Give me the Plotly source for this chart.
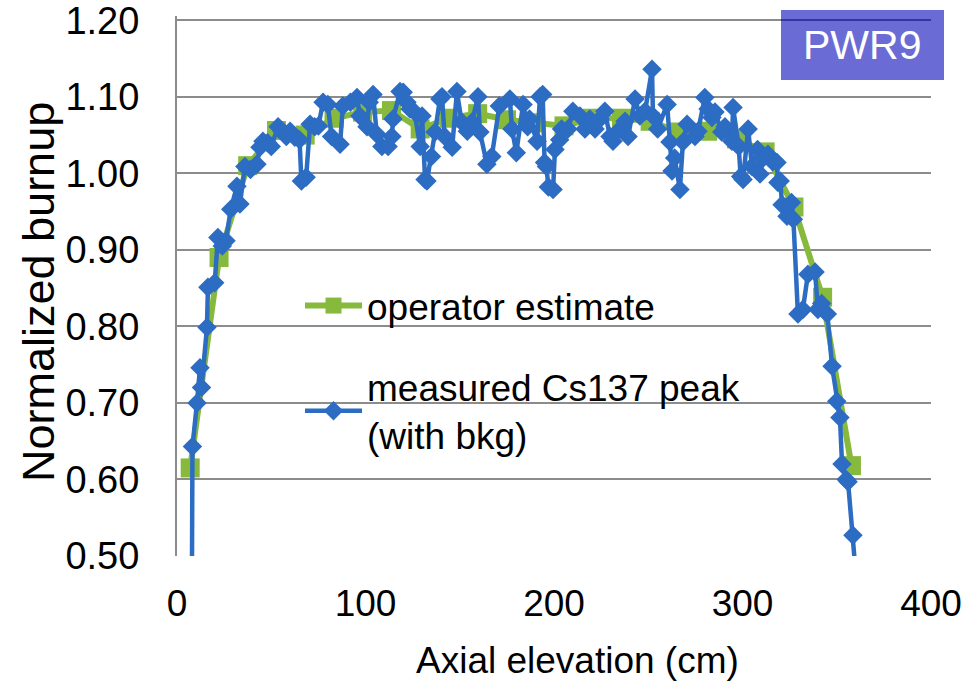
import plotly.graph_objects as go

# operator estimate (green squares)
op_x = [7.0, 22.3, 37.5, 52.8, 68.0, 83.3, 98.5, 113.8, 129.0, 144.3, 159.5, 174.8,
        190.0, 205.3, 220.5, 235.8, 251.0, 266.3, 281.5, 296.8, 312.0, 327.3, 342.5, 357.8]
op_y = [0.615, 0.890, 1.010, 1.056, 1.050, 1.072, 1.080, 1.082, 1.058, 1.072, 1.078, 1.070,
        1.066, 1.062, 1.072, 1.072, 1.068, 1.054, 1.055, 1.045, 1.028, 0.956, 0.838, 0.618]

# measured Cs137 peak (blue diamonds)
cs_x = [7.8, 8.2, 10.6, 12.2, 13.0, 15.9, 16.4, 20.0, 21.7, 24.0, 26.0, 28.5, 31.8, 33.4,
        36.0, 39.0, 42.4, 44.0, 45.6, 48.0, 50.0, 53.6, 55.7, 58.0, 60.0, 62.5, 65.0, 66.0,
        68.5, 70.6, 73.0, 75.0, 77.5, 80.0, 82.0, 86.5, 88.0, 92.0, 95.5, 97.0, 100.8, 102.0,
        104.0, 106.0, 108.7, 112.0, 114.0, 114.6, 118.3, 120.0, 122.0, 123.6, 126.0, 129.0,
        130.0, 131.6, 132.6, 135.0, 136.9, 139.5, 140.6, 142.0, 146.0, 148.5, 151.0, 154.0,
        156.5, 159.7, 160.7, 164.4, 167.0, 171.0, 176.6, 177.7, 180.0, 183.6, 186.0, 187.0,
        191.0, 192.6, 194.0, 195.0, 196.0, 197.0, 199.5, 200.5, 203.0, 204.0, 207.4, 210.0,
        213.8, 216.4, 219.0, 221.8, 224.4, 227.0, 229.7, 231.3, 235.0, 237.7, 239.3, 243.0,
        245.6, 248.3, 252.0, 252.5, 255.0, 260.0, 261.5, 262.6, 264.0, 266.8, 268.4, 270.6,
        274.8, 276.4, 280.0, 281.7, 283.8, 285.4, 289.0, 290.7, 294.4, 295.0, 298.0, 299.0,
        300.3, 303.0, 305.0, 308.0, 309.3, 311.0, 313.5, 316.0, 318.3, 318.8, 320.0, 321.0,
        323.6, 326.0, 327.0, 329.4, 332.0, 334.7, 338.5, 340.0, 342.0, 345.0, 347.5, 350.0,
        351.7, 352.8, 355.0, 356.0, 358.6, 361.0]
cs_y = [0.400, 0.643, 0.700, 0.746, 0.720, 0.799, 0.851, 0.857, 0.916, 0.905, 0.912, 0.953, 0.983, 0.960,
        1.009, 1.005, 1.012, 1.034, 1.042, 1.040, 1.035, 1.061, 1.055, 1.048, 1.055, 1.047, 1.044, 0.990,
        0.995, 1.064, 1.061, 1.062, 1.093, 1.090, 1.048, 1.038, 1.088, 1.093, 1.099, 1.075, 1.061, 1.093,
        1.103, 1.051, 1.035, 1.035, 1.048, 1.071, 1.107, 1.106, 1.093, 1.084, 1.080, 1.035,
        1.075, 0.992, 0.990, 1.022, 1.054, 1.097, 1.100, 1.048, 1.034, 1.107, 1.067, 1.055,
        1.067, 1.100, 1.054, 1.012, 1.022, 1.088, 1.097, 1.058, 1.027, 1.090, 1.061, 1.071,
        1.042, 1.100, 1.103, 1.014, 1.009, 0.982, 0.979, 1.031, 1.044, 1.058, 1.058, 1.081,
        1.075, 1.058, 1.071, 1.058, 1.071, 1.081, 1.048, 1.042, 1.058, 1.068, 1.048, 1.097,
        1.075, 1.081, 1.136, 1.075, 1.058, 1.090, 1.041, 1.003, 1.020, 0.979, 1.041, 1.064,
        1.048, 1.055, 1.099, 1.084, 1.073, 1.080, 1.054, 1.061, 1.042, 1.086, 1.035, 0.996,
        0.992, 1.058, 1.009, 1.031, 0.999, 1.020, 1.025, 1.015, 1.014, 0.988, 0.990, 0.959,
        0.944, 0.962, 0.940, 0.816, 0.822, 0.868, 0.871, 0.822, 0.830, 0.816, 0.748, 0.702,
        0.681, 0.620, 0.600, 0.597, 0.527, 0.450]

x_ticks = [0, 100, 200, 300, 400]
y_ticks = [0.50, 0.60, 0.70, 0.80, 0.90, 1.00, 1.10, 1.20]
y_tick_labels = ["0.50", "0.60", "0.70", "0.80", "0.90", "1.00", "1.10", "1.20"]

FONT = "Arial, Liberation Sans, sans-serif"
GREEN = "#86b93c"
BLUE = "#2c6cc3"

# plot area in pixels (top extended slightly so the 1.20 gridline sits inside)
L, R, T, B = 177, 931, 16, 556
W, H = R - L, B - T
Y_MAX = 1.2056  # keeps the 1.20 gridline at ~20 px


def px(xp):
    return (xp - L) / W


def py(yp):
    return (B - yp) / H


fig = go.Figure()
fig.add_trace(go.Scatter(
    x=op_x, y=op_y, mode="lines+markers", name="operator estimate",
    legendgroup="a",
    line=dict(color=GREEN, width=6),
    marker=dict(symbol="square", size=19, color=GREEN),
))
fig.add_trace(go.Scatter(
    x=cs_x, y=cs_y, mode="lines+markers", name="measured Cs137 peak<br>(with bkg)",
    legendgroup="b",
    line=dict(color=BLUE, width=4.5),
    marker=dict(symbol="diamond", size=15, color=BLUE),
))

fig.update_layout(
    width=972, height=682,
    margin=dict(l=L, r=972 - R, t=T, b=682 - B),
    paper_bgcolor="white", plot_bgcolor="white",
    font=dict(family=FONT, size=37, color="black"),
    showlegend=True,
    legend=dict(
        x=px(300), y=py(275), xanchor="left", yanchor="top",
        bgcolor="rgba(0,0,0,0)", borderwidth=0,
        font=dict(family=FONT, size=37, color="black"),
        itemwidth=57, tracegroupgap=30,
        traceorder="grouped",
    ),
    xaxis=dict(
        range=[0, 400], tickvals=x_ticks, showgrid=False, zeroline=False,
        showline=False, ticks="", ticklabelstandoff=22, automargin=False,
        tickfont=dict(size=37),
    ),
    yaxis=dict(
        range=[0.4999, Y_MAX], tickvals=y_ticks, ticktext=y_tick_labels,
        showgrid=True, gridcolor="#8c8c8c", gridwidth=2,
        zeroline=False, showline=True, linecolor="#8c8c8c", linewidth=2,
        ticks="", ticklabelstandoff=28, tickfont=dict(size=38), automargin=False,
        ticklabeloverflow="allow",
    ),
)

# white legend panel covering gridlines (below traces)
fig.add_shape(type="rect", xref="paper", yref="paper",
              x0=px(275), x1=px(772), y0=py(470), y1=py(262),
              fillcolor="white", line=dict(width=0), layer="between")

# axis titles
fig.add_annotation(text="Axial elevation (cm)", xref="paper", yref="paper",
                   x=px(577), y=py(660), xanchor="center", yanchor="middle",
                   showarrow=False, font=dict(family=FONT, size=37, color="black"))
fig.add_annotation(text="Normalized burnup", xref="paper", yref="paper",
                   x=px(38), y=py(292), xanchor="center", yanchor="middle",
                   textangle=-90, showarrow=False,
                   font=dict(family=FONT, size=45, color="black"))

# PWR9 label box
fig.add_shape(type="rect", xref="paper", yref="paper",
              x0=px(781), x1=px(944), y0=py(80), y1=py(10),
              fillcolor="#6b6bd6", line=dict(width=0), layer="above")
fig.add_shape(type="line", xref="paper", yref="paper",
              x0=px(781), x1=1.0, y0=py(20), y1=py(20),
              line=dict(color="#3535a8", width=2), layer="above")
fig.add_annotation(text="PWR9", xref="paper", yref="paper",
                   x=px(862), y=py(45), xanchor="center", yanchor="middle",
                   showarrow=False, font=dict(family=FONT, size=41, color="white"))

fig.write_html("out.html")
